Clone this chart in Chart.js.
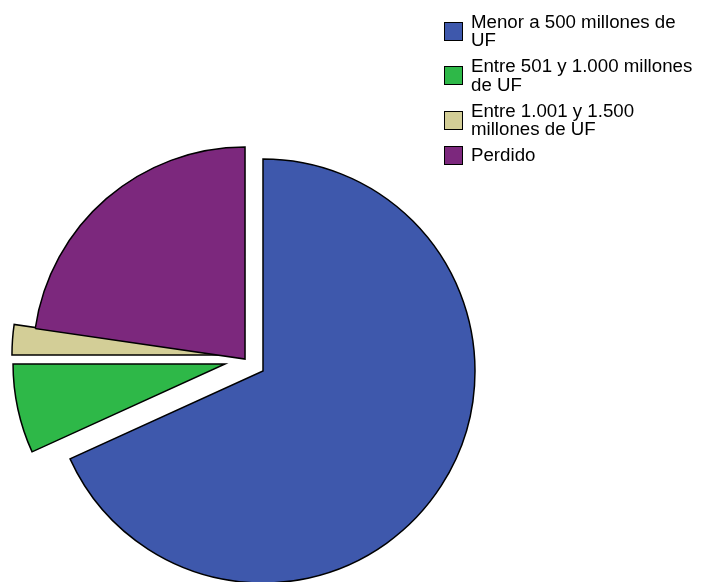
<!DOCTYPE html>
<html lang="es">
<head>
<meta charset="utf-8">
<script src="https://cdn.jsdelivr.net/npm/chart.js@4/dist/chart.umd.min.js"></script>
<style>
  html, body { margin: 0; padding: 0; background: #ffffff; }
  #wrap { position: relative; width: 701px; height: 582px; overflow: hidden; }
  #pie { position: absolute; left: 0; top: 0; }
  #legend {
    position: absolute; left: 444px; top: 12.6px;
    font-family: "Liberation Sans", Arial, sans-serif;
    font-size: 18.7px; line-height: 18.5px; color: #000;
    display: flex; flex-direction: column; gap: 7.5px;
  }
  .item { display: flex; align-items: center; }
  .box { width: 17px; height: 17px; border: 1.5px solid #000; margin-right: 8px; flex: none; }
</style>
</head>
<body>
<div id="wrap">
  <canvas id="pie" width="701" height="582"></canvas>
  <div id="legend"></div>
</div>
<script>
// Categories (legend labels, one line per array entry)
const categories = [
  ["Menor a 500 millones de", "UF"],
  ["Entre 501 y 1.000 millones", "de UF"],
  ["Entre 1.001 y 1.500", "millones de UF"],
  ["Perdido"]
];
// Share of each category, in percent
const shares = [68.2, 6.8, 2.3, 22.7];
const colors = ["#3E58AC", "#2EB848", "#D3CE97", "#7C287D"];
// Pulled-out slices: distance (px) and direction (degrees, clockwise from 12 o'clock)
const explodeDist = [0, 38.6, 42.2, 21.6];
const explodeDir = [0, 280.4, 292.3, 303.7];

// Shift each arc's centre after the pie controller has laid it out
const explodePlugin = {
  id: "explode",
  afterDatasetUpdate(chart, args) {
    const ds = chart.data.datasets[args.index];
    args.meta.data.forEach((arc, i) => {
      const d = ds.explodeDist[i] || 0;
      const a = (ds.explodeDir[i] || 0) * Math.PI / 180;
      arc.x += d * Math.sin(a);
      arc.y -= d * Math.cos(a);
    });
  }
};

new Chart(document.getElementById("pie"), {
  type: "pie",
  data: {
    labels: categories.map(l => l.join(" ")),
    datasets: [{
      data: shares,
      backgroundColor: colors,
      borderColor: "#000000",
      borderWidth: 1.5,
      borderJoinStyle: "miter",
      explodeDist: explodeDist,
      explodeDir: explodeDir
    }]
  },
  options: {
    responsive: false,
    devicePixelRatio: 1,
    animation: false,
    radius: 212,
    layout: { padding: { left: 0, right: 175, top: 160, bottom: 0 } },
    plugins: { legend: { display: false }, tooltip: { enabled: false } },
    events: []
  },
  plugins: [explodePlugin]
});

// Legend
const legend = document.getElementById("legend");
categories.forEach((lines, i) => {
  const item = document.createElement("div");
  item.className = "item";
  const box = document.createElement("div");
  box.className = "box";
  box.style.background = colors[i];
  const txt = document.createElement("div");
  lines.forEach((ln, k) => {
    if (k) txt.appendChild(document.createElement("br"));
    txt.appendChild(document.createTextNode(ln));
  });
  item.appendChild(box);
  item.appendChild(txt);
  legend.appendChild(item);
});
</script>
</body>
</html>
